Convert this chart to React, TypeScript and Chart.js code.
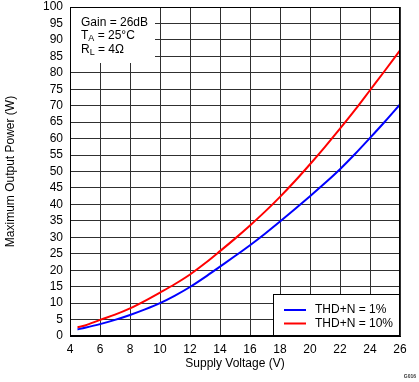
import React, { useEffect, useRef } from "react";
import { Chart, registerables } from "chart.js";

Chart.register(...registerables);

const voltages = [4.5, 5, 6, 7, 8, 9, 10, 11, 12, 13, 14, 15, 16, 17, 18, 19, 20, 21, 22, 23, 24, 25, 26];
const thd1 = [2.0, 2.5, 3.6, 4.9, 6.4, 8.1, 10.0, 12.3, 14.9, 17.9, 21.1, 24.3, 27.6, 31.1, 34.8, 38.6, 42.5, 46.5, 50.7, 55.3, 60.2, 65.2, 70.4];
const thd10 = [2.6, 3.2, 4.9, 6.5, 8.4, 10.7, 13.2, 15.8, 18.7, 22.1, 25.8, 29.6, 33.6, 37.8, 42.3, 47.1, 52.2, 57.5, 63.0, 68.7, 74.7, 80.7, 86.8];
const seriesLabels = ["THD+N = 1%", "THD+N = 10%"];
const seriesColors = ["#0000ff", "#ff0000"];
const xTitle = "Supply Voltage (V)";
const yTitle = "Maximum Output Power (W)";
const figId = "G016";

const FONT = "'Liberation Sans', Arial, sans-serif";
const GRID = "#303030";

const overlayPlugin = {
  id: "overlay",
  beforeDatasetsDraw(chart: any) {
    const ctx = chart.ctx;
    const a = chart.chartArea;
    ctx.save();
    ctx.fillStyle = "#fff";
    ctx.fillRect(a.left + 1, a.top + 1, 154 - a.left, 62 - a.top);
    ctx.fillStyle = "#000";
    ctx.textBaseline = "middle";
    ctx.textAlign = "left";
    const x0 = a.left + 11;
    ctx.font = "12px " + FONT;
    ctx.fillText("Gain = 26dB", x0, 23);
    const sub = (main: string, s: string, rest: string, y: number) => {
      ctx.font = "12px " + FONT;
      ctx.fillText(main, x0, y);
      let w = ctx.measureText(main).width;
      ctx.font = "9px " + FONT;
      ctx.fillText(s, x0 + w, y + 3);
      w += ctx.measureText(s).width;
      ctx.font = "12px " + FONT;
      ctx.fillText(rest, x0 + w, y);
    };
    sub("T", "A", " = 25°C", 36);
    sub("R", "L", " = 4Ω", 50);
    ctx.restore();
  },
  afterDatasetsDraw(chart: any) {
    const ctx = chart.ctx;
    const a = chart.chartArea;
    ctx.save();
    ctx.strokeStyle = "#000";
    ctx.lineWidth = 1;
    ctx.strokeRect(a.left + 0.5, a.top + 0.5, a.right - a.left - 1, a.bottom - a.top - 1);
    const lx = 273, ly = 294, lw = a.right - lx, lh = a.bottom - ly;
    ctx.fillStyle = "#fff";
    ctx.fillRect(lx, ly, lw, lh);
    ctx.strokeRect(lx + 0.5, ly + 0.5, lw - 1, lh - 1);
    ctx.font = "12px " + FONT;
    ctx.textBaseline = "middle";
    ctx.textAlign = "left";
    chart.data.datasets.forEach((ds: any, i: number) => {
      const y = 310 + i * 13.5;
      ctx.strokeStyle = ds.borderColor;
      ctx.lineWidth = 2;
      ctx.beginPath();
      ctx.moveTo(284, y);
      ctx.lineTo(306, y);
      ctx.stroke();
      ctx.fillStyle = "#000";
      ctx.fillText(ds.label, 315, y);
    });
    ctx.restore();
  },
  afterDraw(chart: any) {
    const ctx = chart.ctx;
    ctx.save();
    ctx.font = "bold 5px " + FONT;
    ctx.fillStyle = "#333";
    ctx.textAlign = "right";
    ctx.textBaseline = "middle";
    ctx.fillText(figId, 416, 377);
    ctx.restore();
  },
};

export default function App() {
  const ref = useRef<HTMLCanvasElement | null>(null);
  useEffect(() => {
    document.body.style.margin = "0";
    const canvas = ref.current!;
    const chart = new Chart(canvas, {
      type: "line",
      data: {
        datasets: [
          {
            label: seriesLabels[0],
            data: voltages.map((v, i) => ({ x: v, y: thd1[i] })),
            borderColor: seriesColors[0],
            backgroundColor: seriesColors[0],
            borderWidth: 2,
            pointRadius: 0,
            cubicInterpolationMode: "monotone",
            fill: false,
          },
          {
            label: seriesLabels[1],
            data: voltages.map((v, i) => ({ x: v, y: thd10[i] })),
            borderColor: seriesColors[1],
            backgroundColor: seriesColors[1],
            borderWidth: 2,
            pointRadius: 0,
            cubicInterpolationMode: "monotone",
            fill: false,
          },
        ],
      },
      options: {
        responsive: false,
        animation: false,
        devicePixelRatio: 1,
        layout: { padding: { left: 0, top: 0, right: 19, bottom: 0 } },
        plugins: { legend: { display: false }, tooltip: { enabled: false } },
        scales: {
          x: {
            type: "linear",
            min: 4,
            max: 26,
            afterFit: (s: any) => { s.height = 46; },
            ticks: { stepSize: 2, autoSkip: false, color: "#000", padding: 6, maxRotation: 0, font: { family: FONT, size: 12 } },
            grid: { color: GRID, lineWidth: 1, drawTicks: false },
            border: { display: true, color: "#000" },
            title: { display: true, text: xTitle, color: "#000", font: { family: FONT, size: 12 }, padding: { top: 0, bottom: 11 } },
          },
          y: {
            min: 0,
            max: 100,
            afterFit: (s: any) => { s.width = 70; s.paddingTop = 7; s.paddingBottom = 0; },
            ticks: { stepSize: 5, autoSkip: false, color: "#000", padding: 7, font: { family: FONT, size: 12 } },
            grid: { color: GRID, lineWidth: 1, drawTicks: false },
            border: { display: true, color: "#000" },
            title: { display: true, text: yTitle, color: "#000", font: { family: FONT, size: 12 }, padding: { top: 3, bottom: 0 } },
          },
        },
      },
      plugins: [overlayPlugin],
    } as any);
    return () => chart.destroy();
  }, []);
  return (
    <div style={{ width: 419, height: 382 }}>
      <canvas ref={ref} width={419} height={382} style={{ display: "block" }} />
    </div>
  );
}
